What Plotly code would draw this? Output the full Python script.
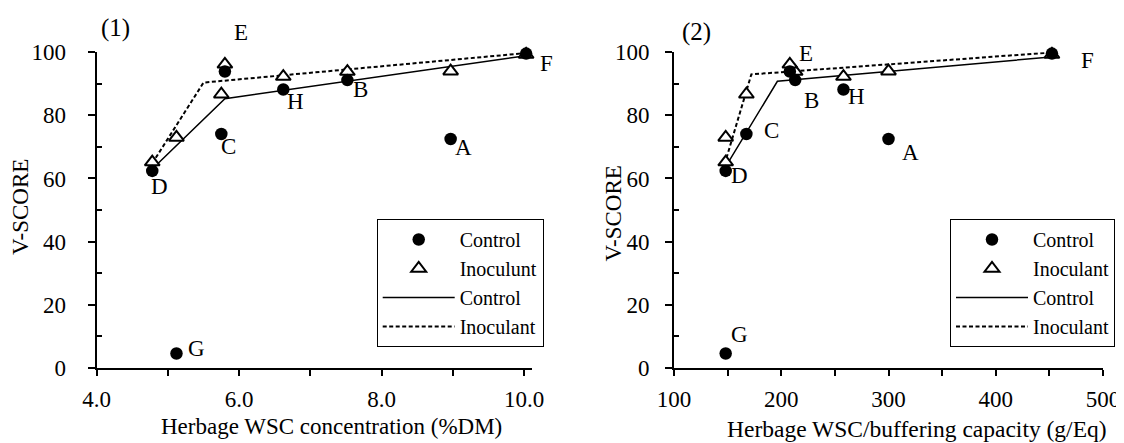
import plotly.graph_objects as go

# ---------------- data ----------------
samples = ["A", "B", "C", "D", "E", "F", "G", "H"]
wsc_dm = [8.97, 7.52, 5.75, 4.78, 5.80, 10.03, 5.12, 6.62]          # Herbage WSC concentration (%DM)
wsc_bc = [300.0, 213.0, 167.5, 148.2, 208.0, 452.4, 148.2, 258.0]   # Herbage WSC/buffering capacity (g/Eq)
vscore_control = [72.5, 91.2, 74.1, 62.4, 93.9, 99.6, 4.5, 88.2]
vscore_inoculant = [94.0, 93.9, 86.7, 65.2, 96.2, 99.3, 73.0, 92.3]

# fitted broken-line regressions
fit1_control_x = [4.78, 5.80, 10.05]
fit1_control_y = [63.0, 85.3, 99.0]
fit1_inoc_x = [4.78, 5.50, 10.05]
fit1_inoc_y = [64.8, 90.4, 99.8]
fit2_control_x = [147.2, 196.4, 454.0]
fit2_control_y = [63.2, 90.8, 98.6]
fit2_inoc_x = [147.2, 172.1, 454.0]
fit2_inoc_y = [64.5, 93.0, 100.0]

x1_ticks = [4, 5, 6, 7, 8, 9, 10]
x1_labels = ["4.0", "", "6.0", "", "8.0", "", "10.0"]
x2_ticks = [100, 150, 200, 250, 300, 350, 400, 450, 500]
x2_labels = ["100", "", "200", "", "300", "", "400", "", "500"]
y_ticks = [0, 20, 40, 60, 80, 100]
y_minor = [10, 30, 50, 70, 90]

legend1_names = ["Control", "Inoculunt", "Control", "Inoculant"]
legend2_names = ["Control", "Inoculant", "Control", "Inoculant"]

# ---------------- style ----------------
OFF = 8                      # page body margin of the html page
W, H = 1124 - OFF, 443 - OFF
FONT = "Liberation Serif, Times New Roman, DejaVu Serif, serif"
FS = 23
BLACK = "black"


def fx(p):  # screen pixel -> paper x
    return (p - OFF) / W


def fy(p):  # screen pixel -> paper y
    return 1 - (p - OFF) / H


# label offsets (px) relative to each sample's control point
lab1 = {"A": (13, 8), "B": (13, 9), "C": (7, 13), "D": (7, 16), "E": (16, -39),
        "F": (20, 10), "G": (20, -5), "H": (12, 12)}
lab2 = {"A": (22, 13), "B": (16, 20), "C": (25, -3), "D": (14, 5), "E": (16, -18),
        "F": (36, 7), "G": (14, -19), "H": (13, 7)}

dom_x1 = [fx(96.7), fx(531.7)]
dom_x2 = [fx(674.0), fx(1103.0)]
dom_y = [fy(367.7), fy(52.3)]

fig = go.Figure()


def add_panel(xs, fx_c, fy_c, fx_i, fy_i, xa, ya, leg, names):
    fig.add_trace(go.Scatter(x=fx_c, y=fy_c, mode="lines", name=names[2], legend=leg,
                             legendrank=3, line=dict(color=BLACK, width=1.5),
                             xaxis=xa, yaxis=ya, cliponaxis=False, hoverinfo="skip"))
    fig.add_trace(go.Scatter(x=fx_i, y=fy_i, mode="lines", name=names[3], legend=leg,
                             legendrank=4, line=dict(color=BLACK, width=2, dash="4px,2.5px"),
                             xaxis=xa, yaxis=ya, cliponaxis=False, hoverinfo="skip"))
    fig.add_trace(go.Scatter(x=xs, y=vscore_inoculant, mode="markers", name=names[1], legend=leg,
                             legendrank=2,
                             marker=dict(symbol="triangle-up", size=13, color="white",
                                         line=dict(color=BLACK, width=2)),
                             xaxis=xa, yaxis=ya, cliponaxis=False))
    fig.add_trace(go.Scatter(x=xs, y=vscore_control, mode="markers", name=names[0], legend=leg,
                             legendrank=1,
                             marker=dict(symbol="circle", size=12.5, color=BLACK,
                                         line=dict(color=BLACK, width=0)),
                             xaxis=xa, yaxis=ya, cliponaxis=False))


add_panel(wsc_dm, fit1_control_x, fit1_control_y, fit1_inoc_x, fit1_inoc_y, "x", "y", "legend", legend1_names)
add_panel(wsc_bc, fit2_control_x, fit2_control_y, fit2_inoc_x, fit2_inoc_y, "x2", "y2", "legend2", legend2_names)

tickfont = dict(family=FONT, size=FS, color=BLACK)
base_axis = dict(showgrid=False, zeroline=False, showline=True, linecolor=BLACK, linewidth=2,
                 ticks="outside", tickcolor=BLACK, tickwidth=2, tickfont=tickfont, automargin=False)
inner_axis = dict(showgrid=False, zeroline=False, showline=False, ticks="inside",
                  tickcolor=BLACK, tickwidth=2, showticklabels=False, automargin=False)

xr1 = [4.0, 10.108]
xr2 = [100, 500]
yr = [0, 100]

legend_common = dict(xanchor="left", yanchor="middle", bordercolor=BLACK, borderwidth=1,
                     bgcolor="white", itemwidth=72, traceorder="normal", tracegroupgap=0,
                     font=dict(family=FONT, size=20, color=BLACK))

fig.update_layout(
    width=W, height=H, margin=dict(l=0, r=0, t=0, b=0),
    paper_bgcolor="white", plot_bgcolor="white",
    xaxis=dict(base_axis, domain=dom_x1, range=xr1, anchor="y", tickmode="array",
               tickvals=x1_ticks, ticktext=x1_labels, ticklen=6, ticklabelstandoff=4),
    yaxis=dict(base_axis, domain=dom_y, range=yr, anchor="x", tickmode="array",
               tickvals=y_ticks, ticklen=7, ticklabelstandoff=17,
               minor=dict(tickmode="array", tickvals=y_minor, ticks="inside", ticklen=5,
                          tickwidth=2, tickcolor=BLACK)),
    xaxis2=dict(base_axis, domain=dom_x2, range=xr2, anchor="y2", tickmode="array",
                tickvals=x2_ticks, ticktext=x2_labels, ticklen=6, ticklabelstandoff=4),
    yaxis2=dict(base_axis, domain=dom_y, range=yr, anchor="x2", tickmode="array",
                tickvals=y_ticks, ticklen=7, ticklabelstandoff=11,
                minor=dict(tickmode="array", tickvals=y_minor, ticks="inside", ticklen=5,
                           tickwidth=2, tickcolor=BLACK)),
    xaxis3=dict(inner_axis, overlaying="x", anchor="y", range=xr1, tickmode="array",
                tickvals=x1_ticks, ticklen=6),
    yaxis3=dict(inner_axis, overlaying="y", anchor="x", range=yr, tickmode="array",
                tickvals=y_ticks, ticklen=7),
    xaxis4=dict(inner_axis, overlaying="x2", anchor="y2", range=xr2, tickmode="array",
                tickvals=x2_ticks, ticklen=6),
    yaxis4=dict(inner_axis, overlaying="y2", anchor="x2", range=yr, tickmode="array",
                tickvals=y_ticks, ticklen=7),
    legend=dict(legend_common, x=fx(376.7), y=fy(283.0)),
    legend2=dict(legend_common, x=fx(950.0), y=fy(283.0)),
)

ann = []
for xs, xr, yr_, labs in ((wsc_dm, "x", "y", lab1), (wsc_bc, "x2", "y2", lab2)):
    for s, xv, yv in zip(samples, xs, vscore_control):
        dx, dy = labs[s]
        ann.append(dict(x=xv, y=yv, xref=xr, yref=yr_, text=s, showarrow=False,
                        xanchor="center", yanchor="middle", xshift=dx, yshift=-dy,
                        font=dict(family=FONT, size=FS, color=BLACK)))

titles = [
    ("Herbage WSC concentration (%DM)", 331.5, 426.0, 0, 23),
    ("Herbage WSC/buffering capacity (g/Eq)", 916.5, 428.5, 0, 23.5),
    ("V-SCORE", 21.0, 207.0, -90, 23),
    ("V-SCORE", 612.5, 214.0, -90, 23),
    ("(1)", 115.0, 28.0, 0, 25),
    ("(2)", 696.0, 32.0, 0, 25),
]
for t, px, py, ang, fs in titles:
    ann.append(dict(x=fx(px), y=fy(py), xref="paper", yref="paper", text=t,
                    showarrow=False, xanchor="center", yanchor="middle", textangle=ang,
                    font=dict(family=FONT, size=fs, color=BLACK)))

fig.update_layout(annotations=ann)
fig.write_html("out.html")
